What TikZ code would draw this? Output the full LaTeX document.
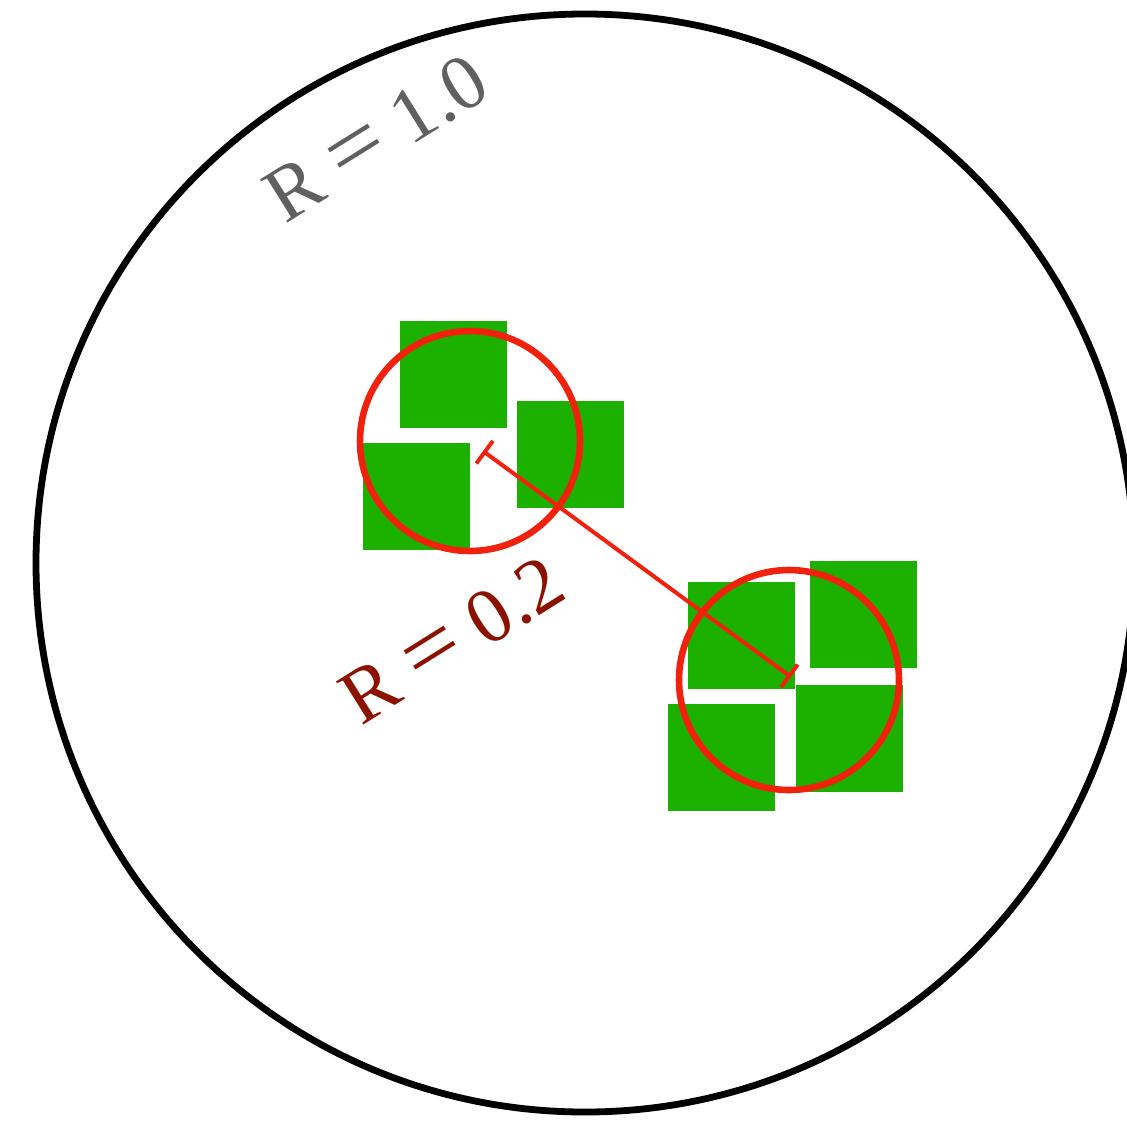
\documentclass[tikz,border=0pt]{standalone}
\usepackage{fontspec}
\setmainfont{Liberation Serif}
\usetikzlibrary{arrows.meta}

\definecolor{ringred}{RGB}{240,34,14}
\definecolor{labelred}{RGB}{140,18,0}
\definecolor{labelgray}{RGB}{96,96,96}
\definecolor{cellgreen}{RGB}{28,176,0}

\newcommand{\eqgap}{\hspace{0.25em}\scalebox{1.3}[1.15]{=}\hspace{0.25em}}

\tikzset{
    cell/.style={fill=cellgreen, draw=none},
    ring/.style={draw=ringred, line width=3.3pt, circle, inner sep=0pt, minimum size=110pt},
    radiuslabel/.style={font=\fontsize{39}{41}\selectfont, rotate=32, inner sep=0pt}
}

\begin{document}
\begin{tikzpicture}[x=0.5pt, y=-0.5pt]

    % Frame
    \useasboundingbox (0,0) rectangle (1127,1125);
    \clip (0,0) rectangle (1127,1125);

    % Outer circle
    \draw[line width=3.4pt] (585,563) circle (549);

    % Green squares (top left corners)
    \foreach \x/\y in {400/321, 517/401, 363/443, 688/582, 810/561, 668/704, 796/685} {
        \fill[cell] (\x,\y) rectangle ++(107,107);
    }

    % Small circles
    \node[ring] (left) at (470,441) {};
    \node[ring] (right) at (789,680) {};

    % Distance between the clusters
    \coordinate (start) at (483,451);
    \coordinate (end) at (791,677);
    \draw[ringred, line width=2pt, {Bar[width=14pt]}-{Bar[width=14pt]}] (start) -- (end);

    % Labels
    \node[radiuslabel, text=labelgray] (outer) at (376,138) {R\eqgap1.0};
    \node[radiuslabel, text=labelred] (inner) at (452,640) {R\eqgap0.2};

\end{tikzpicture}
\end{document}
